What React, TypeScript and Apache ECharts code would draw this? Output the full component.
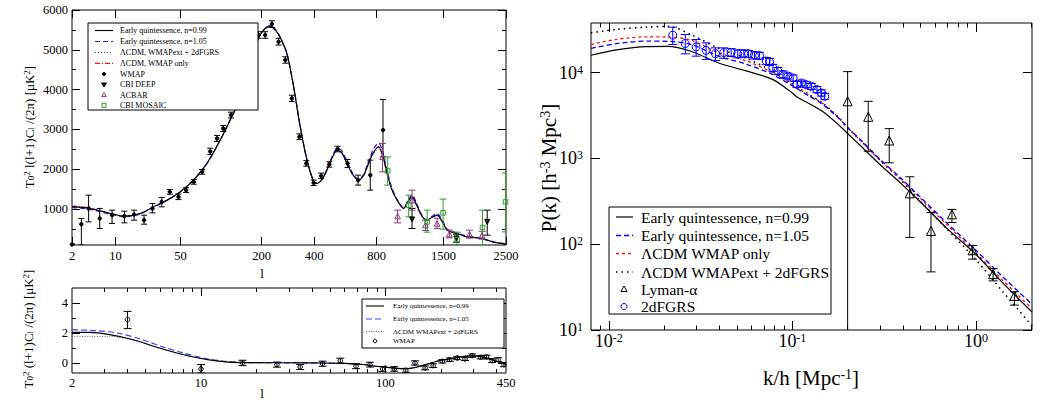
import React, { useEffect, useRef } from "react";
import * as echarts from "echarts";

const FONT = '"Liberation Serif", "Times New Roman", Times, serif';

// ===== Panel A: CMB temperature spectrum =====
const ttTickLabels = [2, 10, 50, 200, 400, 800, 1500, 2500];
const ttYTickLabels = [1000, 2000, 3000, 4000, 5000, 6000];
const ttYMinorTicks = [500, 1500, 2500, 3500, 4500, 5500];
const ttL = [2, 3, 4.2, 6, 8.5, 13, 20, 27.6, 37.5, 49.6, 64.6, 82.9, 104.5, 130, 150, 160, 175, 191, 210, 226, 245, 259, 283, 309, 336, 366, 397, 413, 440, 465, 495, 522, 550, 584, 625, 663, 700, 725, 770, 816, 850, 888, 930, 980, 1044, 1090, 1130, 1175, 1221, 1260, 1298, 1360, 1419, 1480, 1549, 1620, 1687, 1760, 1835, 1950, 2045, 2160, 2275, 2400, 2500];
const ttEQ099 = [1063, 1045, 1018, 960, 892, 824, 892, 1058, 1226, 1435, 1729, 2148, 2734, 3405, 3850, 4158, 4750, 5300, 5530, 5590, 5470, 5300, 4900, 4070, 3070, 2230, 1690, 1646, 1750, 1980, 2300, 2480, 2420, 2150, 1850, 1730, 1850, 2060, 2400, 2560, 2350, 1900, 1500, 1226, 1018, 1200, 1310, 1120, 892, 760, 724, 800, 849, 700, 472, 420, 389, 340, 304, 290, 264, 220, 170, 140, 120];
const ttEQ105 = [1040, 1020, 995, 940, 875, 810, 880, 1045, 1215, 1425, 1720, 2140, 2730, 3400, 3850, 4160, 4760, 5310, 5545, 5610, 5490, 5320, 4920, 4090, 3090, 2250, 1700, 1650, 1760, 2000, 2330, 2520, 2470, 2200, 1880, 1750, 1880, 2110, 2480, 2660, 2450, 1980, 1550, 1250, 1030, 1230, 1360, 1170, 920, 780, 740, 830, 890, 740, 500, 440, 405, 360, 320, 300, 275, 230, 180, 150, 125];
const ttLCDMwmap = [1075, 1055, 1025, 965, 895, 825, 890, 1055, 1222, 1432, 1727, 2146, 2732, 3405, 3852, 4160, 4752, 5302, 5535, 5595, 5475, 5305, 4905, 4075, 3075, 2235, 1695, 1650, 1752, 1985, 2305, 2485, 2425, 2155, 1855, 1735, 1855, 2070, 2410, 2570, 2360, 1910, 1505, 1230, 1020, 1205, 1315, 1125, 895, 762, 726, 805, 852, 702, 474, 422, 390, 342, 305, 291, 265, 221, 171, 141, 121];
const ttLCDMext = [1090, 1065, 1030, 968, 897, 826, 888, 1050, 1218, 1428, 1724, 2144, 2730, 3400, 3845, 4152, 4745, 5295, 5525, 5585, 5465, 5295, 4895, 4068, 3072, 2240, 1705, 1660, 1745, 1970, 2280, 2455, 2400, 2140, 1855, 1740, 1840, 2040, 2360, 2510, 2320, 1890, 1500, 1230, 1025, 1190, 1290, 1110, 890, 765, 730, 795, 835, 695, 475, 425, 392, 345, 306, 292, 266, 222, 172, 142, 122];
const wmapL = [2, 3, 4, 6, 9, 13, 17, 22, 27, 33.5, 40, 48, 56, 65, 76, 88, 99, 110, 125, 139, 154, 171, 191, 210, 231, 253, 277, 302, 333, 363, 397, 435, 478, 526, 588, 659, 749, 853];
const wmapV = [113, 623, 1018, 766, 849, 824, 867, 724, 1018, 1183, 1435, 1309, 1477, 1686, 1937, 2450, 2776, 3028, 3362, 4033, 4367, 4827, 5372, 5372, 5648, 5204, 4744, 3781, 2817, 2148, 1661, 1837, 2123, 2508, 2148, 1729, 1854, 2985];
const wmapLo = [100, 100, 681, 515, 641, 656, 724, 623, 907, 1058, 1375, 1240, 1417, 1626, 1877, 2370, 2700, 2950, 3290, 3950, 4290, 4745, 5290, 5290, 5565, 5120, 4665, 3705, 2745, 2078, 1595, 1770, 2055, 2440, 2048, 1604, 1477, 2314];
const wmapHi = [130, 766, 1352, 1018, 975, 950, 975, 849, 1143, 1294, 1495, 1380, 1537, 1746, 1997, 2530, 2850, 3100, 3435, 4115, 4445, 4910, 5455, 5455, 5730, 5290, 4825, 3860, 2890, 2218, 1730, 1905, 2190, 2580, 2248, 1854, 2231, 3756];
const cbiL = [1130, 1677, 2159];
const cbiV = [741, 264, 681];
const cbiLo = [515, 170, 347];
const cbiHi = [1018, 372, 975];
const acbL = [849, 985, 1130, 1278, 1419, 1579, 1870, 2073];
const acbV = [2314, 824, 1226, 598, 640, 372, 372, 347];
const acbLo = [1937, 656, 975, 464, 515, 280, 272, 250];
const acbHi = [2651, 975, 1476, 724, 774, 472, 472, 445];
const mosL = [894, 1095, 1298, 1495, 1687, 2079, 2491];
const mosV = [1963, 1101, 681, 907, 238, 540, 1183];
const mosLo = [1603, 807, 422, 496, 100, 100, 430];
const mosHi = [2312, 1352, 975, 1252, 422, 975, 1912];

// ===== Panel B: TE spectrum =====
const teTickLabels = [2, 10, 100, 450];
const teMajorTicks = [10, 100];
const teMinorTicks = [3, 4, 5, 6, 7, 8, 9, 20, 30, 40, 50, 60, 70, 80, 90, 200, 300, 400];
const teYTickLabels = [0, 2, 4];
const teYMinorTicks = [1, 3];
const teL = [2, 2.5, 3.2, 4.3, 5.7, 7.4, 9.1, 11.6, 14.9, 20, 30, 45, 60, 75, 89, 100, 115, 128, 145, 165, 195, 230, 260, 290, 330, 364, 400, 439, 450];
const teEQ099 = [2.04, 2.04, 1.89, 1.55, 1.07, 0.67, 0.4, 0.17, 0.04, 0.02, 0.01, 0.0, -0.03, -0.1, -0.22, -0.28, -0.36, -0.38, -0.3, -0.11, 0.15, 0.3, 0.42, 0.47, 0.42, 0.28, 0.12, -0.05, -0.1];
const teL105 = [2, 2.7, 3.5, 4.7, 6.2, 8, 10.3, 13.2, 16.9, 20, 30, 45, 60, 75, 89, 100, 115, 128, 145, 165, 195, 230, 260, 290, 330, 364, 400, 439, 450];
const teEQ105 = [2.22, 2.15, 2.0, 1.6, 1.07, 0.67, 0.33, 0.13, 0.04, 0.02, 0.01, 0.0, -0.03, -0.1, -0.22, -0.28, -0.36, -0.38, -0.3, -0.11, 0.15, 0.3, 0.42, 0.47, 0.42, 0.28, 0.12, -0.05, -0.1];
const teLCDMext = [1.77, 1.77, 1.77, 1.51, 1.05, 0.66, 0.4, 0.17, 0.04, 0.02, 0.01, 0.0, -0.03, -0.1, -0.22, -0.28, -0.36, -0.38, -0.3, -0.11, 0.15, 0.3, 0.42, 0.47, 0.42, 0.28, 0.12, -0.05, -0.1];
const wteL = [4, 10, 16.8, 25.8, 34.5, 45.6, 56.9, 69.2, 82.4, 96.4, 111.5, 128.9, 144.6, 163.9, 181.2, 203.3, 222.8, 245, 269.8, 295.1, 327.8, 353.3, 378.6, 408, 438.5];
const wteV = [2.89, -0.4, 0, -0.11, -0.27, -0.05, 0.15, -0.22, -0.11, -0.4, -0.4, -0.49, 0, -0.33, -0.18, 0.11, 0.22, 0.33, 0.27, 0.49, 0.38, 0.4, 0.15, 0.22, -0.11];
const wteLo = [2.29, -0.67, -0.18, -0.28, -0.44, -0.22, -0.02, -0.38, -0.27, -0.56, -0.55, -0.62, -0.14, -0.46, -0.3, 0.0, 0.11, 0.22, 0.16, 0.38, 0.27, 0.28, 0.03, 0.09, -0.25];
const wteHi = [3.44, -0.11, 0.18, 0.06, -0.1, 0.12, 0.32, -0.06, 0.05, -0.24, -0.25, -0.36, 0.14, -0.2, -0.06, 0.22, 0.33, 0.44, 0.38, 0.6, 0.49, 0.52, 0.27, 0.35, 0.03];

// ===== Panel C: matter power spectrum =====
const pkXTickLabels = [0.01, 0.1, 1];
const pkXMinorTicks = [0.009, 0.02, 0.03, 0.04, 0.05, 0.06, 0.07, 0.08, 0.09, 0.2, 0.3, 0.4, 0.5, 0.6, 0.7, 0.8, 0.9, 2];
const pkYTickLabels = [10, 100, 1000, 10000];
const pkK = [0.008, 0.011, 0.016, 0.021, 0.028, 0.04, 0.056, 0.078, 0.097, 0.107, 0.124, 0.147, 0.182, 0.2, 0.24, 0.3, 0.39, 0.5, 0.7, 1.0, 1.4, 2.02];
const pkEQ099 = [16000, 18500, 20200, 20300, 17800, 12900, 10500, 8360, 6100, 5150, 4350, 3500, 2380, 1955, 1350, 850, 513, 309, 151, 76, 35.5, 16.2];
const pkEQ105 = [19190, 21880, 23330, 23230, 21380, 15490, 12590, 9550, 7300, 6450, 5300, 4250, 2840, 2290, 1585, 977, 589, 351, 174, 85, 41.7, 20];
const pkLCDMwmap = [21330, 24550, 26180, 26060, 23990, 16980, 13800, 10000, 7550, 6600, 5420, 4350, 2880, 2290, 1550, 955, 575, 339, 166, 79, 38, 17.8];
const pkLCDMext = [29170, 32000, 34000, 34700, 27900, 19050, 14790, 10400, 7700, 6700, 5500, 4400, 2880, 2290, 1550, 955, 562, 316, 148, 66, 28, 11.2];
const tdfK = [0.0223, 0.0261, 0.0299, 0.0339, 0.0381, 0.0423, 0.0464, 0.0504, 0.0544, 0.0577, 0.0622, 0.0663, 0.072, 0.0751, 0.0783, 0.0834, 0.0888, 0.0945, 0.101, 0.106, 0.112, 0.119, 0.127, 0.136, 0.144, 0.15];
const tdfP = [27400, 21900, 20000, 18200, 16700, 17200, 17200, 16600, 16700, 16600, 15900, 15800, 13700, 13400, 11400, 10500, 9560, 9160, 8680, 7310, 7590, 7250, 6930, 6350, 5800, 5300];
const tdfLo = [21300, 16600, 15600, 14300, 13900, 14700, 15500, 14900, 15200, 15100, 14500, 14400, 12500, 12200, 10400, 9600, 8700, 8450, 8000, 6750, 7000, 6700, 6400, 5850, 5350, 4900];
const tdfHi = [34000, 27900, 24400, 22300, 19500, 19500, 19100, 18500, 18400, 18200, 17500, 17300, 15000, 14700, 12500, 11500, 10500, 9900, 9400, 7900, 8200, 7850, 7500, 6900, 6300, 5750];
const lyaK = [0.2, 0.259, 0.337, 0.436, 0.569, 0.74, 0.959, 1.24, 1.62];
const lyaP = [4640, 3060, 1620, 392, 143, 223, 85, 44.8, 25];
const lyaLo = [8, 1215, 891, 120, 47.6, 179, 67, 37.4, 19.5];
const lyaHi = [10300, 4640, 2230, 612, 234, 255, 97, 52, 27.9];

// legend texts
const ttLegend = ["Early quintessence, n=0.99", "Early quintessence, n=1.05", "\u039bCDM, WMAPext + 2dFGRS", "\u039bCDM, WMAP only", "WMAP", "CBI DEEP", "ACBAR", "CBI MOSAIC"];
const teLegend = ["Early quintessence, n=0.99", "Early quintessence, n=1.05", "\u039bCDM WMAPext + 2dFGRS", "WMAP"];
const pkLegend = ["Early quintessence, n=0.99", "Early quintessence, n=1.05", "\u039bCDM WMAP only", "\u039bCDM WMAPext + 2dFGRS", "Lyman-\u03b1", "2dFGRS"];

const BLUE = "#1f1fff";
const RED = "#ff1010";
const PURPLE = "#8b3a7a";
const GREEN = "#2e9e2e";

function buildOption() {
  const qt = (l: number) => Math.pow(l, 0.25);
  const lg = (v: number) => Math.log10(v);

  const ax = (gridIndex: number, position: string, min: number, max: number, ticks: number[], len: number, label?: any) => {
    const a: any = {
      type: "value",
      gridIndex,
      position,
      min,
      max,
      axisLine: { show: false, onZero: false },
      splitLine: { show: false },
      axisPointer: { show: false },
      axisTick: { show: true, inside: true, length: len, customValues: ticks, lineStyle: { color: "#000", width: 1 } },
      axisLabel: { show: false },
    };
    if (label) {
      a.axisLabel = {
        show: true,
        customValues: label.values,
        formatter: label.formatter,
        margin: label.margin,
        color: "#000",
        fontFamily: FONT,
        fontSize: label.fontSize,
        rich: label.rich,
      };
    }
    return a;
  };

  const supRich = {
    m: { fontSize: 18, fontFamily: FONT, color: "#000", lineHeight: 18, padding: [8, 0, 0, 0], verticalAlign: "bottom" },
    s: { fontSize: 12, fontFamily: FONT, color: "#000", lineHeight: 12, verticalAlign: "top" },
  };
  const numRich = { m: { fontSize: 12.5, fontFamily: FONT, color: "#000", lineHeight: 14 } };
  const powFmt = (v: number) => `{m|10}{s|${Math.round(v)}}`;

  const ttX = [qt(2), qt(2500)];
  const teX = [lg(2), lg(450)];
  const pkX = [lg(0.008), lg(2.02)];
  const pkY = [1, lg(38000)];

  const xAxis = [
    ax(0, "bottom", ttX[0], ttX[1], ttTickLabels.map(qt), 8, { values: ttTickLabels.map(qt), formatter: (v: number) => `{m|${Math.round(Math.pow(v, 4))}}`, margin: 4, fontSize: 12.5, rich: numRich }),
    ax(0, "top", ttX[0], ttX[1], ttTickLabels.map(qt), 8),
    ax(1, "bottom", teX[0], teX[1], teMajorTicks.map(lg), 8, { values: teTickLabels.map(lg), formatter: (v: number) => `{m|${Math.round(Math.pow(10, v))}}`, margin: 3, fontSize: 12.5, rich: numRich }),
    ax(1, "bottom", teX[0], teX[1], teMinorTicks.map(lg), 4),
    ax(1, "top", teX[0], teX[1], teMajorTicks.map(lg), 8),
    ax(1, "top", teX[0], teX[1], teMinorTicks.map(lg), 4),
    ax(2, "bottom", pkX[0], pkX[1], pkXTickLabels.map(lg), 9, { values: pkXTickLabels.map(lg), formatter: powFmt, margin: 2, fontSize: 18, rich: supRich }),
    ax(2, "bottom", pkX[0], pkX[1], pkXMinorTicks.map(lg), 4.5),
    ax(2, "top", pkX[0], pkX[1], pkXTickLabels.map(lg), 9),
    ax(2, "top", pkX[0], pkX[1], pkXMinorTicks.map(lg), 4.5),
  ];
  const yAxis = [
    ax(0, "left", 100, 6000, ttYTickLabels, 8, { values: ttYTickLabels, formatter: (v: number) => `{m|${Math.round(v)}}`, margin: 4, fontSize: 12.5, rich: numRich }),
    ax(0, "left", 100, 6000, ttYMinorTicks, 4),
    ax(0, "right", 100, 6000, ttYTickLabels, 8),
    ax(0, "right", 100, 6000, ttYMinorTicks, 4),
    ax(1, "left", -0.67, 5, teYTickLabels, 8, { values: teYTickLabels, formatter: (v: number) => `{m|${Math.round(v)}}`, margin: 4, fontSize: 12.5, rich: numRich }),
    ax(1, "left", -0.67, 5, teYMinorTicks, 4),
    ax(1, "right", -0.67, 5, teYTickLabels, 8),
    ax(1, "right", -0.67, 5, teYMinorTicks, 4),
    ax(2, "left", pkY[0], pkY[1], pkYTickLabels.map(lg), 9, { values: pkYTickLabels.map(lg), formatter: powFmt, margin: 8, fontSize: 18, rich: supRich }),
    ax(2, "right", pkY[0], pkY[1], pkYTickLabels.map(lg), 9),
  ];

  const lineS = (name: string, xi: number, yi: number, data: number[][], color: string, dash: any, width: number, smooth = 0.3) => ({
    type: "line",
    name,
    xAxisIndex: xi,
    yAxisIndex: yi,
    data,
    showSymbol: false,
    symbol: "none",
    smooth,
    clip: true,
    silent: true,
    z: 3,
    lineStyle: { color, width, type: dash },
  });
  const errS = (name: string, xi: number, yi: number, data: number[][], color: string, cap: number) => ({
    type: "custom",
    name,
    xAxisIndex: xi,
    yAxisIndex: yi,
    clip: true,
    silent: true,
    z: 4,
    data,
    encode: { x: 0, y: [1, 2] },
    renderItem: (_p: any, api: any) => {
      const x = api.value(0);
      const a = api.coord([x, api.value(2)]);
      const b = api.coord([x, api.value(1)]);
      const st = { stroke: color, lineWidth: 1, fill: "none" };
      return {
        type: "group",
        children: [
          { type: "line", shape: { x1: a[0], y1: a[1], x2: b[0], y2: b[1] }, style: st },
          { type: "line", shape: { x1: a[0] - cap, y1: a[1], x2: a[0] + cap, y2: a[1] }, style: st },
          { type: "line", shape: { x1: b[0] - cap, y1: b[1], x2: b[0] + cap, y2: b[1] }, style: st },
        ],
      };
    },
  });
  const scat = (name: string, xi: number, yi: number, data: number[][], symbol: string, size: number, fill: string, stroke: string, rotate = 0) => ({
    type: "scatter",
    name,
    xAxisIndex: xi,
    yAxisIndex: yi,
    data,
    symbol,
    symbolSize: size,
    symbolRotate: rotate,
    silent: true,
    z: 5,
    itemStyle: { color: fill, borderColor: stroke, borderWidth: 1, opacity: 1 },
  });

  const T = "rgba(0,0,0,0)";
  const series: any[] = [
    // Panel A
    lineS("ext", 0, 0, ttL.map((l, i) => [qt(l), ttLCDMext[i]]), "#555", [1, 2], 1),
    lineS("wmaponly", 0, 0, ttL.map((l, i) => [qt(l), ttLCDMwmap[i]]), RED, [5, 2, 1, 2], 1.2),
    lineS("n105", 0, 0, ttL.map((l, i) => [qt(l), ttEQ105[i]]), BLUE, [5, 3], 1.2),
    lineS("n099", 0, 0, ttL.map((l, i) => [qt(l), ttEQ099[i]]), "#000", "solid", 1.1),
    errS("wmapErr", 0, 0, wmapL.map((l, i) => [qt(l), wmapLo[i], wmapHi[i]]), "#000", 3),
    scat("WMAP", 0, 0, wmapL.map((l, i) => [qt(l), wmapV[i]]), "circle", 3.5, "#000", "#000"),
    errS("cbiErr", 0, 0, cbiL.map((l, i) => [qt(l), cbiLo[i], cbiHi[i]]), "#000", 3.5),
    scat("CBI DEEP", 0, 0, cbiL.map((l, i) => [qt(l), cbiV[i]]), "triangle", 5, "#222", "#000", 180),
    errS("acbErr", 0, 0, acbL.map((l, i) => [qt(l), acbLo[i], acbHi[i]]), PURPLE, 3.5),
    scat("ACBAR", 0, 0, acbL.map((l, i) => [qt(l), acbV[i]]), "triangle", 5.5, T, PURPLE),
    errS("mosErr", 0, 0, mosL.map((l, i) => [qt(l), mosLo[i], mosHi[i]]), GREEN, 3.5),
    scat("CBI MOSAIC", 0, 0, mosL.map((l, i) => [qt(l), mosV[i]]), "rect", 4.5, T, GREEN),
    // Panel B
    lineS("teExt", 2, 4, teL.map((l, i) => [lg(l), teLCDMext[i]]), "#666", [1, 1.5], 1),
    lineS("te105", 2, 4, teL105.map((l, i) => [lg(l), teEQ105[i]]), "#3344ff", [6, 3], 1.2),
    lineS("te099", 2, 4, teL.map((l, i) => [lg(l), teEQ099[i]]), "#000", "solid", 1.1),
    errS("wteErr", 2, 4, wteL.map((l, i) => [lg(l), wteLo[i], wteHi[i]]), "#000", 4),
    scat("WMAP TE", 2, 4, wteL.map((l, i) => [lg(l), wteV[i]]), "circle", 4.5, T, "#000"),
    // Panel C
    lineS("pkExt", 6, 8, pkK.map((k, i) => [lg(k), lg(pkLCDMext[i])]), "#000", [1.5, 4], 1.6, 0.3),
    lineS("pkWmap", 6, 8, pkK.map((k, i) => [lg(k), lg(pkLCDMwmap[i])]), RED, [3, 3], 1.3, 0.3),
    lineS("pk105", 6, 8, pkK.map((k, i) => [lg(k), lg(pkEQ105[i])]), "#0000ff", [5, 3], 1.3, 0.3),
    lineS("pk099", 6, 8, pkK.map((k, i) => [lg(k), lg(pkEQ099[i])]), "#000", "solid", 1.2, 0.3),
    errS("tdfErr", 6, 8, tdfK.map((k, i) => [lg(k), lg(tdfLo[i]), lg(tdfHi[i])]), "#0000ff", 4.5),
    scat("2dFGRS", 6, 8, tdfK.map((k, i) => [lg(k), lg(tdfP[i])]), "circle", 8, T, "#0000ff"),
    errS("lyaErr", 6, 8, lyaK.map((k, i) => [lg(k), lg(lyaLo[i]), lg(lyaHi[i])]), "#000", 4.5),
    scat("Lyman-alpha", 6, 8, lyaK.map((k, i) => [lg(k), lg(lyaP[i])]), "triangle", 9, T, "#000"),
  ];

  // ----- graphic: legends and axis titles -----
  const g: any[] = [];
  const hline = (x1: number, x2: number, y: number, color: string, dash: any, w: number) =>
    g.push({ type: "line", silent: true, z: 101, shape: { x1, y1: y, x2, y2: y }, style: { stroke: color, lineWidth: w, lineDash: dash } });
  const txt = (x: number, y: number, text: string, size: number, align = "left") =>
    g.push({ type: "text", silent: true, z: 101, x, y, style: { text, fontSize: size, fontFamily: FONT, fill: "#000", align, verticalAlign: "middle" } });
  const box = (x: number, y: number, w: number, h: number) =>
    g.push({ type: "rect", silent: true, z: 100, shape: { x, y, width: w, height: h }, style: { fill: "#fff", stroke: "#000", lineWidth: 1 } });
  const tri = (cx: number, cy: number, r: number, color: string, fill: string, down = false) => {
    const s = down ? -1 : 1;
    g.push({ type: "polygon", silent: true, z: 101, shape: { points: [[cx, cy - s * r], [cx - r * 0.9, cy + s * r * 0.6], [cx + r * 0.9, cy + s * r * 0.6]] }, style: { fill, stroke: color, lineWidth: 1 } });
  };
  const circ = (cx: number, cy: number, r: number, color: string, fill: string) =>
    g.push({ type: "circle", silent: true, z: 101, shape: { cx, cy, r }, style: { fill, stroke: color, lineWidth: 1 } });

  // Panel A legend
  box(88, 23, 170, 87);
  const aRows = [30.5, 41.5, 52.5, 63.3, 74, 84.5, 95, 105.3];
  hline(95, 113, aRows[0], "#000", null, 1.1);
  hline(95, 113, aRows[1], BLUE, [5, 3], 1.2);
  hline(95, 113, aRows[2], "#555", [1, 2], 1);
  hline(95, 113, aRows[3], RED, [5, 2, 1, 2], 1.2);
  circ(104, aRows[4], 1.6, "#000", "#000");
  tri(104, aRows[5], 2.6, "#000", "#222", true);
  tri(104, aRows[6], 2.6, PURPLE, "none");
  g.push({ type: "rect", silent: true, z: 101, shape: { x: 102, y: aRows[7] - 2, width: 4, height: 4 }, style: { fill: "none", stroke: GREEN, lineWidth: 1 } });
  ttLegend.forEach((t, i) => txt(120, aRows[i], t, 8));

  // Panel B legend
  box(362, 299, 142, 49);
  const bRows = [306, 319, 331.5, 341];
  hline(366, 384, bRows[0], "#000", null, 1.1);
  hline(366, 384, bRows[1], "#3344ff", [6, 3], 1.2);
  hline(366, 384, bRows[2], "#666", [1, 1.5], 1);
  circ(375, bRows[3], 1.8, "#000", "none");
  teLegend.forEach((t, i) => txt(393, bRows[i], t, 7));

  // Panel C legend
  box(609, 207, 222, 107);
  const cRows = [217, 235.5, 253.5, 272, 289.5, 306.5];
  hline(616, 633, cRows[0], "#000", null, 1.2);
  hline(616, 633, cRows[1], "#0000ff", [5, 3], 1.3);
  hline(616, 633, cRows[2], RED, [3, 3], 1.3);
  hline(616, 633, cRows[3], "#000", [1.5, 4], 1.6);
  tri(624, cRows[4], 3.5, "#000", "none");
  circ(624, cRows[5], 3, "#0000ff", "none");
  pkLegend.forEach((t, i) => txt(641, cRows[i], t, 15.5));

  // axis titles
  const rich = (base: number, small: number) => ({
    m: { fontSize: base, fontFamily: FONT, fill: "#000", color: "#000", lineHeight: base, padding: [Math.round(small * 0.55), 0, Math.round(small * 0.55), 0] },
    sub: { fontSize: small, fontFamily: FONT, fill: "#000", color: "#000", lineHeight: small, verticalAlign: "bottom" },
    sup: { fontSize: small, fontFamily: FONT, fill: "#000", color: "#000", lineHeight: small, verticalAlign: "top" },
  });
  const title = (x: number, y: number, text: string, base: number, small: number, rot = 0) =>
    g.push({
      type: "text",
      silent: true,
      z: 101,
      x,
      y,
      rotation: rot,
      style: { text, rich: rich(base, small), fontSize: base, fontFamily: FONT, fill: "#000", align: "center", verticalAlign: "middle" },
    });
  title(29, 127, "{m|T}{sub|0}{sup|2}{m| l(l+1)C}{sub|l}{m| /(2\u03c0) [\u03bcK}{sup|2}{m|]}", 13, 9, Math.PI / 2);
  txt(262, 273, "l", 13, "center");
  title(28, 329, "{m|T}{sub|0}{sup|2}{m| (l+1)C}{sub|l}{m| /(2\u03c0) [\u03bcK}{sup|2}{m|]}", 13, 9, Math.PI / 2);
  txt(262, 393, "l", 13, "center");
  title(549, 168, "{m|P(k) [h}{sup|-3}{m| Mpc}{sup|3}{m|]}", 21, 14, Math.PI / 2);
  title(811, 378, "{m|k/h [Mpc}{sup|-1}{m|]}", 21, 14);

  const gridBase = { show: true, borderColor: "#000", borderWidth: 1, backgroundColor: "transparent", containLabel: false, outerBoundsMode: "none" };
  return {
    animation: false,
    backgroundColor: "#fff",
    textStyle: { fontFamily: FONT },
    grid: [
      { ...gridBase, left: 72, top: 10, width: 434, height: 235 },
      { ...gridBase, left: 72, top: 288, width: 434, height: 85 },
      { ...gridBase, left: 591, top: 23, width: 441, height: 307 },
    ],
    xAxis,
    yAxis,
    series,
    graphic: g,
  };
}

export default function App() {
  const ref = useRef<HTMLDivElement>(null);
  useEffect(() => {
    if (!ref.current) return;
    const chart = echarts.init(ref.current, null, { renderer: "svg" });
    chart.setOption(buildOption() as any);
    return () => chart.dispose();
  }, []);
  return <div ref={ref} style={{ position: "fixed", left: 0, top: 0, width: 1040, height: 407, background: "#fff" }} />;
}
